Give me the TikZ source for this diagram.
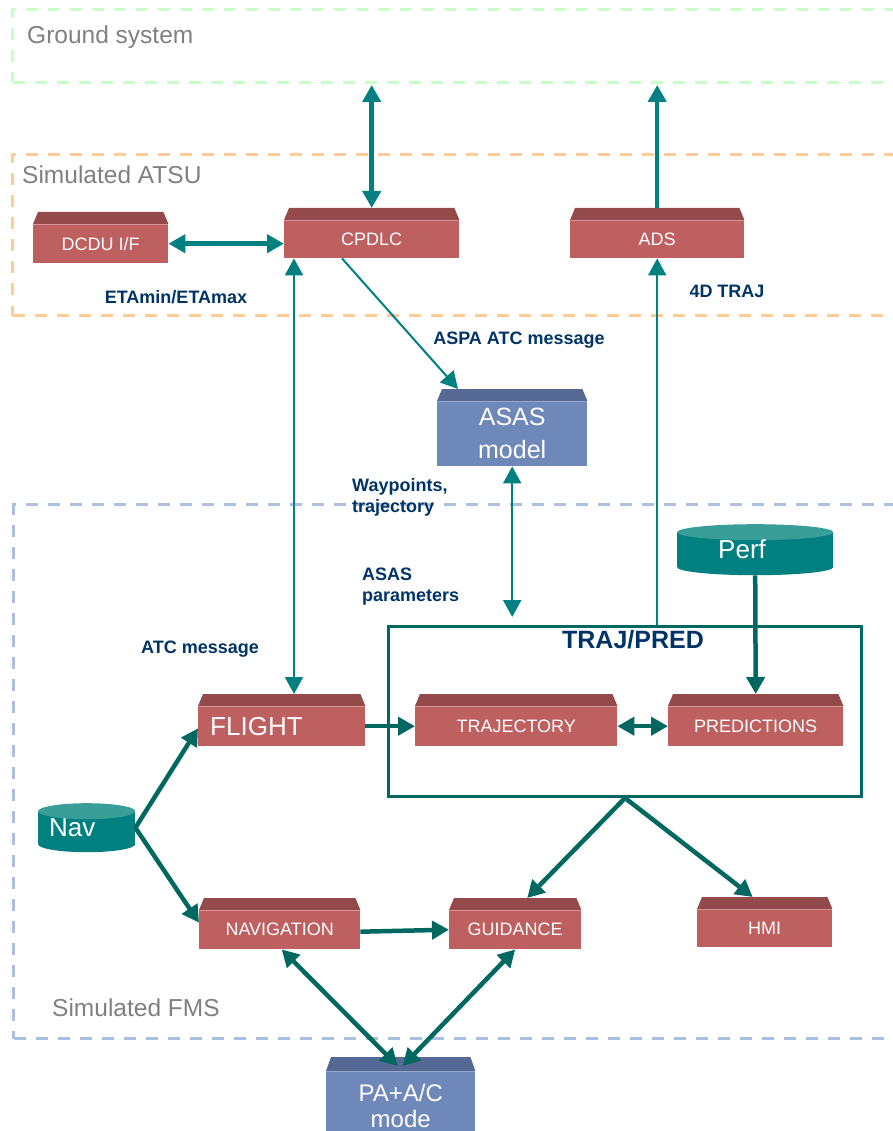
\documentclass[tikz,border=0pt]{standalone}
\usepackage{fontspec}
\setmainfont{Liberation Sans}
\usetikzlibrary{arrows.meta,calc}

\definecolor{boxred}{RGB}{190,96,95}
\definecolor{boxredtop}{RGB}{148,74,74}
\definecolor{boxredline}{RGB}{215,150,150}
\definecolor{boxblue}{RGB}{110,136,185}
\definecolor{boxbluetop}{RGB}{86,104,148}
\definecolor{boxblueline}{RGB}{150,170,205}
\definecolor{tealA}{RGB}{0,128,128}
\definecolor{tealB}{RGB}{0,104,96}
\definecolor{cyltop}{RGB}{58,158,152}
\definecolor{navy}{RGB}{0,51,102}
\definecolor{framegreen}{RGB}{200,255,200}
\definecolor{frameorange}{RGB}{255,204,153}
\definecolor{frameblue}{RGB}{170,192,222}
\definecolor{framegray}{RGB}{128,128,128}

\newcommand\pxfont[2]{\fontsize{#1pt}{#2pt}\selectfont}

% sloped top face of a block
\newcommand\bevel[4]{%
  \fill[#2] (#1.north west) -- ++(5,-#4) -- ($(#1.north east)+(-5,-#4)$) -- (#1.north east) -- cycle;
  \draw[#3, line width=0.7pt] (#1.north west) -- (#1.north east);}

\begin{document}
\begin{tikzpicture}[x=1pt, y=-1pt,
  >={Triangle[width=18pt,length=17pt]},
  frame/.style={rectangle, draw, line width=3pt, dash pattern=on 12pt off 10pt,
    inner sep=0pt, anchor=north west},
  framelbl/.style={anchor=west, inner sep=0pt, text=framegray, font=\pxfont{24.5}{29}},
  block/.style={rectangle, inner sep=0pt, anchor=north west, text=white},
  redblock/.style={block, fill=boxred, font=\pxfont{18}{22}},
  blueblock/.style={block, fill=boxblue, align=center},
  cylnode/.style={rectangle, inner sep=0pt, anchor=north west, text=white,
    font=\pxfont{26}{30}, align=left,
    path picture={
      \fill[tealA] ($(path picture bounding box.north west)+(0,8)$) rectangle
                   ($(path picture bounding box.south east)+(0,-8)$);
      \fill[tealA] ($(path picture bounding box.south)+(0,-8)$) ellipse[x radius=#1, y radius=8];
      \fill[cyltop] ($(path picture bounding box.north)+(0,8)$) ellipse[x radius=#1, y radius=8];
    }},
  lbl/.style={text=navy, font=\bfseries\pxfont{18}{21}},
  heavy/.style={line width=4.5pt, tealB},
  heavyA/.style={line width=4.5pt, tealA},
  light/.style={line width=2pt, tealA}]

\useasboundingbox (0,0) rectangle (893,1131);

% ---- dashed system frames ----
\node[frame, draw=framegreen, minimum width=900pt, minimum height=73pt] (gnd) at (11,8) {};
\node[framelbl] (gndlbl) at (27,37) {Ground system};
\node[frame, draw=frameorange, minimum width=900pt, minimum height=161pt] (atsu) at (11,153) {};
\node[framelbl] (atsulbl) at (22,175) {Simulated ATSU};
\node[frame, draw=frameblue, minimum width=900pt, minimum height=534pt] (fms) at (12,503) {};
\node[framelbl] (fmslbl) at (52,1008) {Simulated FMS};

% ---- ATSU blocks ----
\node[redblock, minimum width=135pt, minimum height=39pt] (dcdu) at (33,224) {DCDU I/F};
\bevel{dcdu}{boxredtop}{boxredline}{12}
\node[redblock, minimum width=175pt, minimum height=38pt] (cpdlc) at (284,220) {CPDLC};
\bevel{cpdlc}{boxredtop}{boxredline}{12}
\node[redblock, minimum width=174pt, minimum height=38pt] (ads) at (570,220) {ADS};
\bevel{ads}{boxredtop}{boxredline}{12}

% ---- ASAS model ----
\node[blueblock, font=\pxfont{25}{33}, minimum width=150pt, minimum height=65pt] (asas) at (437,401) {ASAS\\model};
\bevel{asas}{boxbluetop}{boxblueline}{12}

% ---- FMS blocks ----
\node[cylnode=78, inner xsep=41pt, text width=74pt, minimum height=51pt] (perf) at (677,524) {\raisebox{-6pt}{Perf}};
\node[cylnode=48.5, inner xsep=11pt, text width=75pt, minimum height=49pt] (nav) at (38,803) {\raisebox{-6pt}{Nav}};

\node[rectangle, draw=tealB, line width=3pt, inner sep=0pt, anchor=north west,
      minimum width=473pt, minimum height=170pt] (trajpred) at (387,625) {};
\node[text=navy, font=\bfseries\pxfont{25}{30}] (trajlbl) at (633,640) {TRAJ/PRED};

\node[redblock, font=\pxfont{26}{30}, align=left, inner xsep=12pt, text width=143pt,
      minimum height=40pt] (flight) at (198,706) {\raisebox{-2pt}{FLIGHT}};
\bevel{flight}{boxredtop}{boxredline}{12}
\node[redblock, minimum width=202pt, minimum height=40pt] (traj) at (415,706) {TRAJECTORY};
\bevel{traj}{boxredtop}{boxredline}{12}
\node[redblock, minimum width=175pt, minimum height=40pt] (pred) at (668,706) {PREDICTIONS};
\bevel{pred}{boxredtop}{boxredline}{12}

\node[redblock, minimum width=161pt, minimum height=39pt] (navig) at (199,910) {NAVIGATION};
\bevel{navig}{boxredtop}{boxredline}{12}
\node[redblock, minimum width=132pt, minimum height=39pt] (guid) at (449,910) {GUIDANCE};
\bevel{guid}{boxredtop}{boxredline}{12}
\node[redblock, minimum width=135pt, minimum height=38pt] (hmi) at (697,909) {HMI};
\bevel{hmi}{boxredtop}{boxredline}{12}

\node[blueblock, font=\pxfont{24}{26}, minimum width=149pt, minimum height=70pt] (pa) at (326,1071) {PA+A/C\\mode};
\bevel{pa}{boxbluetop}{boxblueline}{14}

% ---- anchor points on the sloped tops ----
\coordinate (cpdlctop) at ($(cpdlc.north)+(0,-12)$);
\coordinate (adstop) at ($(ads.north)+(0,-12)$);
\coordinate (flighttop) at ($(flight.north)+(0,-12)$);
\coordinate (predtop) at ($(pred.north)+(0,-12)$);
\coordinate (cpdlcfoot) at ($(cpdlc.south west)+(10,0)$);
\coordinate (cpdlcfoot2) at ($(cpdlc.south west)+(58,0)$);
\coordinate (asastop) at ($(asas.north west)+(21,-12)$);
\coordinate (guidtop) at ($(guid.north)+(12,-12)$);
\coordinate (hmitop) at ($(hmi.north)+(-12,-12)$);
\coordinate (paL) at ($(pa.north)+(-3,-5)$);
\coordinate (paR) at ($(pa.north)+(2,-5)$);

% ---- connectors ----
\draw[heavyA, <->] ($(gnd.south -| cpdlctop)+(0,1)$) -- (cpdlctop);
\draw[heavyA, ->] (adstop) -- ($(gnd.south -| adstop)+(0,1)$);
\draw[heavyA, <->] (dcdu.east) -- (cpdlc.west |- dcdu.east);

\draw[light, <->] (cpdlcfoot) -- (cpdlcfoot |- flighttop);
\draw[light, ->] (cpdlcfoot2) -- (asastop);
\draw[light, ->] (trajpred.north -| ads.south) -- (ads.south);
\draw[light, <->] (asas.south) -- ($(asas.south |- trajpred.north)+(0,-8)$);

\draw[heavy, ->] (perf.south) -- (predtop);
\draw[heavy, ->] (flight.east) -- (traj.west |- flight.east);
\draw[heavy, <->] (traj.east) -- (pred.west);

\draw[heavy, ->] (nav.east) -- ($(flight.south west)+(0,-18)$);
\draw[heavy, ->] (nav.east) -- ($(navig.west)+(0,-7)$);
\draw[heavy, ->] ($(navig.east)+(0,2)$) -- (guid.west);

\draw[heavy, ->] (trajpred.south) -- (guidtop);
\draw[heavy, ->] (trajpred.south) -- (hmitop);

\draw[heavy, <->] ($(navig.south)+(2,0)$) -- (paL);
\draw[heavy, <->] (guid.south) -- (paR);

% ---- connector labels ----
\node[lbl] (l1) at (176,297) {ETAmin/ETAmax};
\node[lbl] (l2) at (727,291) {4D TRAJ};
\node[lbl] (l3) at (519,340) {ASPA ATC message};
\node[lbl, anchor=west, inner sep=0pt, align=left] (l4) at (352,497) {Waypoints,\\trajectory};
\node[lbl, anchor=west, inner sep=0pt, align=left] (l5) at (362,587) {ASAS\\parameters};
\node[lbl] (l6) at (200,649) {ATC message};
\end{tikzpicture}
\end{document}
